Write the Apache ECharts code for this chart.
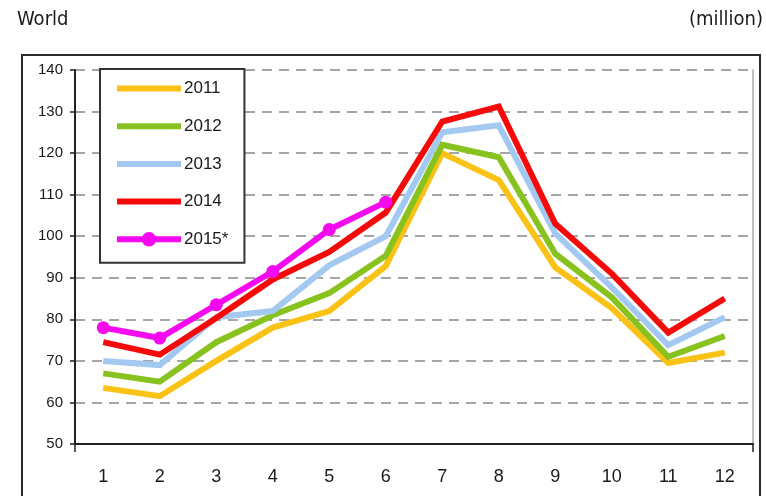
<!DOCTYPE html>
<html>
<head>
<meta charset="utf-8">
<script src="https://cdn.jsdelivr.net/npm/echarts@6/dist/echarts.min.js"></script>
<style>
html,body{margin:0;padding:0;background:#fff;}
#chart{width:766px;height:496px;}
</style>
</head>
<body>
<div id="chart"></div>
<script>
const months = ['1','2','3','4','5','6','7','8','9','10','11','12'];
const s2011 = [63.5, 61.5, 70, 78, 82, 92.8, 120, 113.5, 92.5, 82.7, 69.5, 72];
const s2012 = [67, 65, 74.5, 81, 86.3, 95.3, 122, 119, 95.8, 85.3, 71, 76];
const s2013 = [70, 69, 80.5, 82, 93, 100, 125, 126.7, 100.7, 87.7, 73.8, 80.5];
const s2014 = [74.5, 71.5, 80.3, 89.6, 96.2, 105.7, 127.6, 131.2, 103, 91, 76.8, 85];
const s2015 = [78, 75.5, 83.5, 91.5, 101.6, 108.2];
const yTicks = {min: 50, max: 140, interval: 10};

const FONT = "'Liberation Sans',Arial,sans-serif";
const TITLE_FONT = "'DejaVu Sans Condensed','Liberation Sans',sans-serif";
const chart = echarts.init(document.getElementById('chart'), null, {renderer: 'canvas'});

function lineSeries(name, data, color, withSymbol) {
  return {
    name: name,
    type: 'line',
    data: data,
    yAxisIndex: 0,
    symbol: withSymbol ? 'circle' : 'none',
    showSymbol: withSymbol,
    symbolSize: 13,
    smooth: false,
    animation: false,
    itemStyle: {color: color},
    lineStyle: {color: color, width: 6, join: 'miter'},
    emphasis: {disabled: true}
  };
}

const noDot = {opacity: 0};

chart.setOption({
  animation: false,
  backgroundColor: '#fff',
  graphic: [
    {type: 'rect', shape: {x: 22, y: 55, width: 738, height: 470},
     style: {fill: 'none', stroke: '#2a2a2a', lineWidth: 2}, z: 0},
    {type: 'text', left: 17, top: 10,
     style: {text: 'World', font: "20px " + TITLE_FONT, fill: '#1a1a1a'}},
    {type: 'text', right: 3, top: 10,
     style: {text: '(million)', font: "20px " + TITLE_FONT, fill: '#1a1a1a'}}
  ],
  legend: {
    orient: 'vertical',
    left: 100,
    top: 69,
    padding: [11, 16, 15, 14],
    itemWidth: 64,
    itemHeight: 18,
    itemGap: 20.7,
    borderColor: '#333',
    borderWidth: 2,
    backgroundColor: '#fff',
    textStyle: {fontFamily: FONT, fontSize: 17, color: '#1a1a1a', padding: [0, 0, 0, -2]},
    lineStyle: {width: 6},
    data: [
      {name: '2011', itemStyle: noDot},
      {name: '2012', itemStyle: noDot},
      {name: '2013', itemStyle: noDot},
      {name: '2014', itemStyle: noDot},
      {name: '2015*'}
    ]
  },
  grid: {left: 75, right: 13, top: 70, bottom: 52},
  xAxis: {
    type: 'category',
    data: months,
    boundaryGap: true,
    axisLine: {lineStyle: {color: '#222', width: 2}},
    axisTick: {show: true, interval: function (i) { return i === 0; }, length: 8, lineStyle: {color: '#222', width: 1.5}},
    axisLabel: {fontFamily: FONT, fontSize: 18, color: '#1a1a1a', margin: 24},
    splitLine: {show: false}
  },
  yAxis: [
    {
      type: 'value',
      min: yTicks.min, max: yTicks.max, interval: yTicks.interval,
      axisLine: {show: true, lineStyle: {color: '#222', width: 2}},
      axisTick: {show: true, length: 5, lineStyle: {color: '#222', width: 1.5}},
      axisLabel: {fontFamily: FONT, fontSize: 15, color: '#1a1a1a', margin: 12},
      splitLine: {show: true, lineStyle: {color: '#888', width: 1.5, type: [10, 7]}}
    },
    {
      type: 'value',
      position: 'right',
      min: yTicks.min, max: yTicks.max, interval: yTicks.interval,
      axisLine: {show: true, lineStyle: {color: '#aaa', width: 1.5}},
      axisTick: {show: false},
      axisLabel: {show: false},
      splitLine: {show: false}
    }
  ],
  series: [
    lineSeries('2011', s2011, '#F9C214', false),
    lineSeries('2012', s2012, '#88C21E', false),
    lineSeries('2013', s2013, '#A3C9F0', false),
    lineSeries('2014', s2014, '#F50A0A', false),
    lineSeries('2015*', s2015, '#F50AF0', true)
  ]
});
</script>
</body>
</html>
